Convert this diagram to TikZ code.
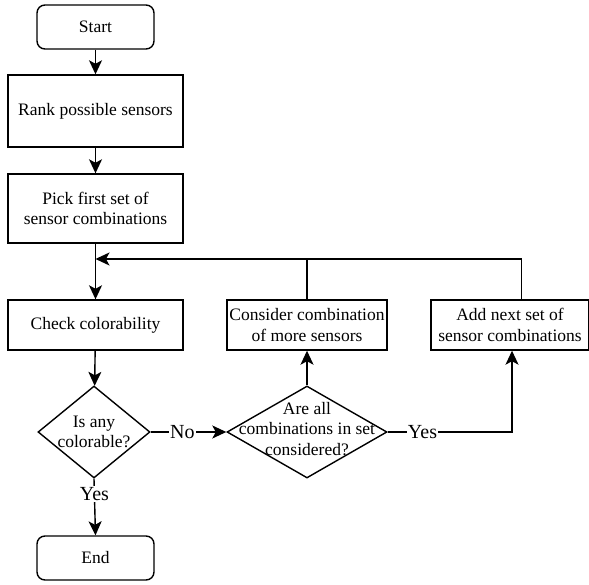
\documentclass[tikz,border=0pt]{standalone}
\usepackage{fontspec}
\setmainfont{Liberation Serif}
\usepackage{tikz}
\usetikzlibrary{shapes.geometric,arrows.meta}

\begin{document}
\begin{tikzpicture}[x=1pt, y=-1pt, line width=1.4pt,
    every node/.style={font=\fontsize{17.5}{20.5}\selectfont},
    terminal/.style={draw, rounded corners=8pt, minimum width=117pt, minimum height=44pt, inner sep=0pt},
    process/.style={draw, minimum width=175pt, inner sep=0pt, align=center},
    decision/.style={draw, diamond, inner sep=0pt},
    answer/.style={fill=white, inner sep=1pt, font=\fontsize{20}{22}\selectfont},
    arr/.style={-{Stealth[length=14pt, width=13pt, inset=3.5pt]}}]
\useasboundingbox (0,0) rectangle (589,585);

\node[terminal] (start) at (95.5,27) {Start};
\node[process, minimum height=72pt] (rank) at (95.5,111) {Rank possible sensors};
\node[process, minimum height=69pt] (pick) at (95.5,208.5) {Pick first set of\\sensor combinations};
\node[process, minimum height=50pt] (check) at (95.5,325) {Check colorability};
\node[decision, minimum width=112pt, minimum height=92pt] (any) at (94,432) {};
\node[align=center] (anytext) at (any) {Is any\\colorable?};
\node[decision, minimum width=160pt, minimum height=92pt] (all) at (307,432) {};
\node[align=center] (alltext) at (307,429) {Are all\\combinations in set\\considered?};
\node[process, minimum width=160pt, minimum height=50pt] (more) at (307,325) {Consider combination\\of more sensors};
\node[process, minimum width=158pt, minimum height=50pt] (next) at (510,325) {Add next set of\\sensor combinations};
\node[terminal] (end) at (95.5,558) {End};
\coordinate (loop) at (95.5,259);

\draw[arr] (start) -- (rank);
\draw[arr] (rank) -- (pick);
\draw[arr] (pick) -- (check);
\draw[arr] (check) -- (any);
\draw[arr] (any.east) -- node[answer, pos=0.42] {No} (all.west);
\draw[arr] (any.south) -- node[answer, pos=0.27] {Yes} (end.north);
\draw[arr] (all.north) -- (more.south);
\draw[arr] (all.east) -| node[answer, pos=0.14] {Yes} ([xshift=2pt]next.south);
\draw[arr] ([xshift=11.5pt]next.north) |- (loop);
\draw (more.north) -- (more.north |- loop);
\end{tikzpicture}
\end{document}
